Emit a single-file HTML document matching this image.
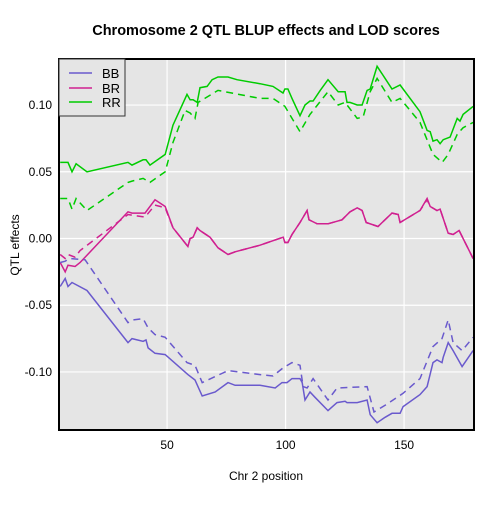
<!DOCTYPE html>
<html><head><meta charset="utf-8"><style>
body{margin:0;background:#fff;}
svg text{font-family:"Liberation Sans",sans-serif;}
</style></head><body>
<svg id="chart" width="504" height="504">
<text x="266" y="35" text-anchor="middle" font-size="14.5" font-weight="bold">Chromosome 2 QTL BLUP effects and LOD scores</text>
<defs><clipPath id="clip"><rect x="59" y="59" width="415" height="371"/></clipPath></defs>
<rect x="59" y="59" width="415" height="371" fill="#e5e5e5"/>
<g id="grid"></g>
<g id="series" clip-path="url(#clip)"></g>
<rect x="59" y="59" width="415" height="371" fill="none" stroke="#000" stroke-width="2"/>
<g id="ticks"></g>
<text x="266" y="480" text-anchor="middle" font-size="12">Chr 2 position</text>
<text x="19" y="245" text-anchor="middle" font-size="12" transform="rotate(-90 19 245)">QTL effects</text>
<g>
<rect x="59" y="59" width="66" height="57" fill="#e5e5e5" stroke="#333" stroke-width="1"/>
<line x1="69" y1="73" x2="92" y2="73" stroke="#6a5acd" stroke-width="1.5"/>
<text x="102" y="78" font-size="13">BB</text>
<line x1="69" y1="88" x2="92" y2="88" stroke="#d02090" stroke-width="1.5"/>
<text x="102" y="93" font-size="13">BR</text>
<line x1="69" y1="102" x2="92" y2="102" stroke="#00cc00" stroke-width="1.5"/>
<text x="102" y="107" font-size="13">RR</text>
</g>
</svg>
<script>
const xTicks=[50,100,150];
const yTicks=[0.10,0.05,0.00,-0.05,-0.10];
const yTickLabels=["0.10","0.05","0.00","-0.05","-0.10"];
const rrSolidPos=[4.9,8.2,9.9,11.6,16.2,33.5,35.2,39.9,41.1,42.8,49.2,52.5,58.4,59.7,61,62.7,63.9,66.9,69,71.5,75.7,79.5,89.2,94.7,98.9,99.7,101,102.7,106.1,108.2,110.3,111.6,114.6,117.9,122.2,125.1,125.9,127.2,130.2,132.3,134.4,135.7,138.6,142,144.9,148.3,156.7,159.7,161,162.2,163.9,165.2,166.5,169.4,172.4,173.6,174.9,179.1];
const rrSolidEff=[.057,.057,.050,.056,.050,.057,.055,.059,.059,.055,.063,.085,.108,.104,.104,.102,.113,.114,.119,.121,.121,.119,.116,.114,.109,.112,.112,.105,.092,.100,.103,.103,.111,.119,.110,.110,.102,.102,.100,.100,.111,.112,.129,.120,.112,.115,.095,.081,.080,.073,.074,.071,.074,.076,.090,.088,.093,.099];
const rrDashPos=[4.9,8.2,9.9,11.6,16.2,33.5,35.2,39.9,42.8,49.2,52.5,57.6,59.7,61.8,63.1,71.5,89.2,94.7,99.7,106.1,110.3,117.9,122.2,125.1,130.2,132.7,135.7,138.6,144.9,148.3,156.7,162.2,166.1,168.6,172.4,174.9,179.1];
const rrDashEff=[.030,.030,.022,.030,.021,.042,.043,.045,.042,.050,.072,.096,.094,.090,.102,.111,.105,.105,.099,.080,.093,.110,.100,.102,.090,.091,.110,.120,.102,.105,.087,.063,.057,.063,.078,.083,.087];
const brSolidPos=[4.9,7,8.2,11.2,13.3,33.5,35.2,40.7,44.9,49.2,52.5,58.8,59.7,61,62.7,63.9,68.1,71.5,75.7,78.7,89.2,99,99.7,101,102.7,106.1,109.1,109.9,113.3,117.9,123.8,127.2,130.2,132.3,134,139,144.9,147.5,148.3,156.7,159.7,161,163.9,165.2,168.6,170.7,173.2,179.1];
const brSolidEff=[-.018,-.025,-.020,-.021,-.018,.020,.019,.019,.029,.024,.008,-.006,.000,.001,.008,.006,.001,-.007,-.012,-.010,-.005,.001,-.003,-.003,.003,.012,.021,.014,.011,.011,.014,.020,.023,.021,.012,.009,.019,.018,.012,.021,.030,.024,.021,.022,.004,.003,.006,-.015];
const brDashPos=[4.9,7,8.2,11.2,13.3,23.8,33.5,40.7,44.9,49.2,52.5,58.8,59.7,61,62.7,63.9,68.1,71.5,75.7,78.7,89.2,99,99.7,101,102.7,106.1,109.1,109.9,113.3,117.9,123.8,127.2,130.2,132.3,134,139,144.9,147.5,148.3,156.7,159.7,161,163.9,165.2,168.6,170.7,173.2,179.1];
const brDashEff=[-.012,-.015,-.012,-.014,-.009,.005,.018,.016,.025,.023,.008,-.006,.000,.001,.008,.006,.001,-.007,-.012,-.010,-.005,.001,-.003,-.003,.003,.012,.021,.014,.011,.011,.014,.020,.023,.021,.012,.009,.019,.018,.012,.021,.029,.024,.021,.022,.004,.003,.006,-.015];
const bbSolidPos=[4.9,7,8.2,9.9,16.2,33.5,35.2,39.9,41.1,42,44.9,49.2,58.8,61.8,64.8,70.3,75.7,78.7,89.2,95.6,98.5,100.6,102.7,106.1,107,108.2,110.3,112.4,117.9,121.7,125.1,125.9,130.2,134.4,135.7,138.6,142,144.9,148.3,149.6,156.7,159.7,162.2,163.9,166,166.5,168.6,170.7,174.5,179.1];
const bbSolidEff=[-.036,-.030,-.036,-.033,-.039,-.078,-.075,-.077,-.076,-.082,-.086,-.087,-.102,-.106,-.118,-.115,-.108,-.110,-.110,-.112,-.108,-.108,-.105,-.105,-.108,-.121,-.115,-.119,-.129,-.123,-.122,-.123,-.123,-.121,-.132,-.138,-.134,-.131,-.131,-.126,-.117,-.111,-.093,-.091,-.093,-.089,-.078,-.084,-.096,-.084];
const bbDashPos=[4.9,7,9,15.4,33.5,35.6,39.9,42,44.9,49.2,58.4,61.8,64.8,75.7,89.2,94.7,98.9,102.7,106.1,107.4,109.1,111.6,117.9,121.7,134.4,137.3,142,149.6,156.7,162.2,166,168.6,170.7,174.5,179.1];
const bbDashEff=[-.018,-.017,-.015,-.016,-.063,-.061,-.060,-.067,-.072,-.074,-.093,-.095,-.108,-.099,-.102,-.103,-.097,-.093,-.095,-.111,-.112,-.105,-.121,-.112,-.111,-.130,-.125,-.116,-.105,-.081,-.075,-.061,-.078,-.084,-.074];

const X0=4.4,X1=179.5,PX0=59,PX1=474;
const Y0=-0.1435,Y1=0.1345,PY0=430,PY1=59;
function sx(v){return PX0+(v-X0)/(X1-X0)*(PX1-PX0);}
function sy(v){return PY0+(v-Y0)/(Y1-Y0)*(PY1-PY0);}
const NS="http://www.w3.org/2000/svg";
const grid=document.getElementById('grid'),ticks=document.getElementById('ticks'),ser=document.getElementById('series');
xTicks.forEach(t=>{
  const l=document.createElementNS(NS,'line');
  
  
  l.setAttribute('x1',sx(t));l.setAttribute('x2',sx(t));l.setAttribute('y1',PY1);l.setAttribute('y2',PY0);
  l.setAttribute('stroke','#fff');l.setAttribute('stroke-width','1.2');grid.appendChild(l);
  const tx=document.createElementNS(NS,'text');
  
  
  tx.setAttribute('x',sx(t));tx.setAttribute('y',449);tx.setAttribute('text-anchor','middle');tx.setAttribute('font-size','12');
  tx.textContent=t;ticks.appendChild(tx);
});
yTicks.forEach((t,i)=>{
  const l=document.createElementNS(NS,'line');
  
  
  l.setAttribute('x1',PX0);l.setAttribute('x2',PX1);l.setAttribute('y1',sy(t));l.setAttribute('y2',sy(t));
  l.setAttribute('stroke','#fff');l.setAttribute('stroke-width','1.2');grid.appendChild(l);
  const tx=document.createElementNS(NS,'text');
  
  
  tx.setAttribute('x',52);tx.setAttribute('y',sy(t)+4);tx.setAttribute('text-anchor','end');tx.setAttribute('font-size','12');
  tx.textContent=yTickLabels[i];ticks.appendChild(tx);
});
function draw(pos,eff,color,dash,name){
  const p=document.createElementNS(NS,'polyline');
  
  
  p.setAttribute('points',pos.map((x,i)=>sx(x).toFixed(1)+','+sy(eff[i]).toFixed(1)).join(' '));
  p.setAttribute('fill','none');p.setAttribute('stroke',color);p.setAttribute('stroke-width','1.5');
  if(dash)p.setAttribute('stroke-dasharray','7,5');
  ser.appendChild(p);
}
draw(rrDashPos,rrDashEff,'#00cc00',true,'rr-dashed-line');
draw(rrSolidPos,rrSolidEff,'#00cc00',false,'rr-line');
draw(brDashPos,brDashEff,'#d02090',true,'br-dashed-line');
draw(brSolidPos,brSolidEff,'#d02090',false,'br-line');
draw(bbDashPos,bbDashEff,'#6a5acd',true,'bb-dashed-line');
draw(bbSolidPos,bbSolidEff,'#6a5acd',false,'bb-line');
</script>
</body></html>
